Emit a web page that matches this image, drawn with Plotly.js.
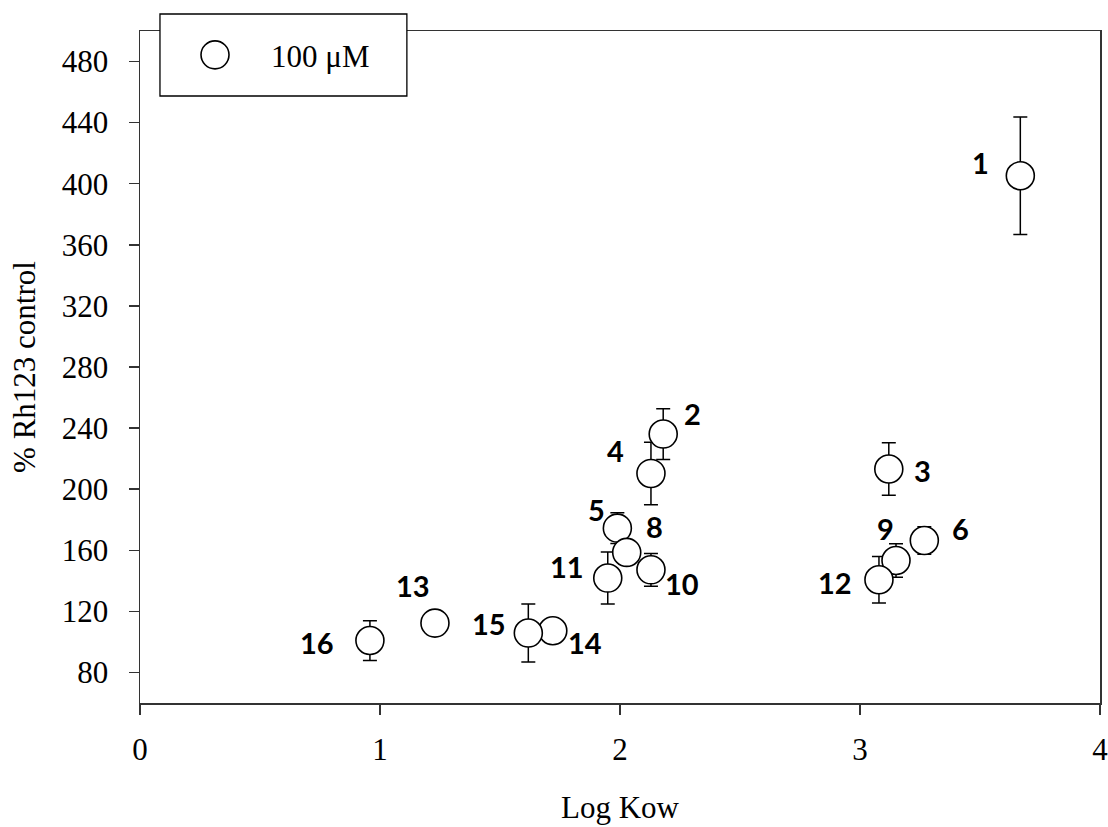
<!DOCTYPE html>
<html>
<head>
<meta charset="utf-8">
<script src="https://cdn.plot.ly/plotly-3.0.1.min.js"></script>
<style>html,body{margin:0;padding:0;background:#fff;}#chart{width:1108px;height:827px;}</style>
</head>
<body>
<div id="chart"></div>
<script>
// ---- data ----
var compoundIds = ['1','2','3','4','5','6','8','9','10','11','12','13','14','15','16'];
var logKow      = [3.668, 2.180, 3.120, 2.129, 1.989, 3.268, 2.028, 3.150, 2.129, 1.949, 3.079, 1.229, 1.720, 1.618, 0.958];
var rh123Pct    = [405.2, 236.1, 213.2, 210.3, 174.5, 166.4, 158.6, 153.3, 147.2, 141.8, 140.7, 112.3, 107.3, 105.8, 100.9];
var rh123Err    = [38.5, 16.6, 17.2, 20.5, 10.0, 9.0, 7.0, 11.0, 10.7, 17.0, 15.3, 5.0, 6.0, 19.0, 13.0];
var seriesName  = '100 \u03BCM';
var xTickVals   = [0, 1, 2, 3, 4];
var yTickVals   = [80, 120, 160, 200, 240, 280, 320, 360, 400, 440, 480];

// label offsets in pixels (dx right, dy down) relative to each marker
var labelDx = [-40, 29, 34, -35, -21, 36, 28, -11, 31, -41, -44, -22, 32, -39, -53];
var labelDy = [-13, -21, 1, -23, -19, -12, -26, -32, 14, -12, 3, -38, 12, -10, 2];

var serif = 'Liberation Serif, Times New Roman, serif';

var trace = {
  type: 'scatter',
  mode: 'markers',
  name: seriesName,
  x: logKow,
  y: rh123Pct,
  error_y: {type: 'data', array: rh123Err, visible: true, color: '#000', thickness: 1.5, width: 7},
  marker: {symbol: 'circle', size: 28, color: '#fff', line: {color: '#000', width: 1.6}},
  showlegend: true,
  hoverinfo: 'x+y'
};

var annotations = compoundIds.map(function (id, i) {
  return {
    x: logKow[i], y: rh123Pct[i], xref: 'x', yref: 'y',
    text: '<b>' + id + '</b>', showarrow: false,
    xanchor: 'center', yanchor: 'middle',
    xshift: labelDx[i], yshift: -labelDy[i],
    font: {family: 'Lato, Carlito, Calibri, sans-serif', size: 29, color: '#000'}
  };
});

var layout = {
  width: 1108, height: 827,
  margin: {l: 140, r: 8, t: 31, b: 124, pad: 0},
  paper_bgcolor: '#fff', plot_bgcolor: '#fff',
  font: {family: serif, size: 31, color: '#000'},
  xaxis: {
    range: [0, 4], tickvals: xTickVals, ticks: 'outside', ticklen: 10, tickwidth: 1.5, tickcolor: '#333',
    showline: true, linecolor: '#333', linewidth: 1.5, mirror: true,
    showgrid: false, zeroline: false, ticklabelstandoff: 8, ticklabeloverflow: 'allow',
    tickfont: {family: serif, size: 31, color: '#000'},
    title: {text: 'Log Kow', font: {family: serif, size: 31, color: '#000'}, standoff: 30}
  },
  yaxis: {
    range: [60, 500], tickvals: yTickVals, ticks: 'outside', ticklen: 10, tickwidth: 1.5, tickcolor: '#333',
    showline: true, linecolor: '#333', linewidth: 1.5, mirror: true,
    showgrid: false, zeroline: false, ticklabelstandoff: 14,
    tickfont: {family: serif, size: 31, color: '#000'},
    title: {text: '% Rh123 control', font: {family: serif, size: 31, color: '#000'}, standoff: 17}
  },
  showlegend: true,
  legend: {
    x: 0.0198, xanchor: 'left', y: 0.964, yanchor: 'middle',
    bgcolor: 'rgba(0,0,0,0)', borderwidth: 0, itemwidth: 102,
    font: {family: serif, size: 31, color: '#000'}
  },
  shapes: [{
    type: 'rect', xref: 'paper', yref: 'paper',
    x0: 0.0208, x1: 0.278, y0: 0.9033, y1: 1.0253,
    line: {color: '#000', width: 1.3}, fillcolor: '#fff', layer: 'above'
  }],
  annotations: annotations
};

Plotly.newPlot('chart', [trace], layout, {staticPlot: true, displayModeBar: false}).then(function (gd) {
  // legend symbols are capped at 16px by Plotly; enlarge to match the plotted marker size
  var pts = gd.querySelectorAll('.legend path.scatterpts');
  pts.forEach(function (p) {
    var t = p.getAttribute('transform') || '';
    p.setAttribute('transform', t + ' scale(1.75)');
    p.style.strokeWidth = (1.6 / 1.75) + 'px';
  });
});
</script>
</body>
</html>
